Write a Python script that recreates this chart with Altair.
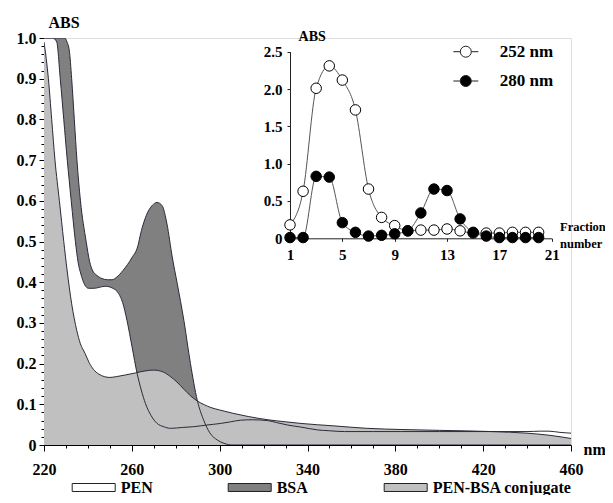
import altair as alt
import pandas as pd

# ---------------- main spectra ----------------
pen_nm = [220, 224, 225.8, 227.4, 229.0, 230.6, 232.4, 234.3, 235.5, 236.8,
          238.0, 240.3, 243.0, 245.6, 248.0, 251.0, 254.0, 255.8, 257.8, 260.1,
          262.4, 264.3, 266.2, 268.8, 271.5, 274.5, 277.6, 283.0, 288.2, 294.0,
          300.5, 305.0, 309.6, 315.0, 321.8, 326.0, 331.0, 337.0, 344.7, 350.0,
          356.8, 370.0, 382.7, 400.0, 424.0, 440.0, 446.0, 450.0, 455.0, 460.0]
pen_abs = [1.0, 1.0, 0.99, 0.9, 0.8, 0.7, 0.6, 0.5, 0.45, 0.42,
           0.40, 0.385, 0.385, 0.388, 0.39, 0.386, 0.372, 0.35, 0.306, 0.241,
           0.176, 0.135, 0.102, 0.072, 0.053, 0.045, 0.041, 0.043, 0.045, 0.049,
           0.053, 0.057, 0.061, 0.062, 0.060, 0.055, 0.049, 0.044, 0.037, 0.035,
           0.033, 0.033, 0.033, 0.033, 0.033, 0.033, 0.034, 0.034, 0.031, 0.029]

bsa_nm = [220, 229.5, 230.5, 231.5, 232.6, 233.8, 235.0, 236.6, 239.2, 240.8,
          242.0, 244.0, 246.4, 249.0, 251.0, 253.0, 256.0, 260.0, 262.8, 264.0,
          266.9, 269.2, 271.5, 273.8, 276.0, 278.4, 280.7, 283.7, 286.7, 289.8,
          292.8, 295.5, 299.0, 302.0, 306.0, 320.0, 460.0]
bsa_abs = [1.0, 1.0, 0.99, 0.97, 0.9, 0.8, 0.7, 0.6, 0.5, 0.45,
           0.43, 0.417, 0.409, 0.406, 0.406, 0.412, 0.429, 0.46, 0.49, 0.519,
           0.568, 0.588, 0.596, 0.588, 0.543, 0.462, 0.396, 0.306, 0.2, 0.11,
           0.06, 0.03, 0.012, 0.004, 0.0, 0.0, 0.0]

conj_nm = [220, 221, 222, 223.5, 225, 227, 229, 230.5, 232.6, 234.9,
           236.5, 238.7, 240.5, 242.5, 245, 247.5, 250, 253, 257, 261.6,
           266, 270, 274, 277.6, 280.5, 283.7, 286.7, 289.8, 293, 296,
           300, 306, 313, 322, 330, 337, 352, 367, 383, 400,
           424, 440, 450, 460]
conj_abs = [0.99, 0.95, 0.9, 0.8, 0.7, 0.6, 0.5, 0.43, 0.347, 0.282,
            0.25, 0.225, 0.203, 0.186, 0.174, 0.168, 0.166, 0.168, 0.172, 0.177,
            0.182, 0.184, 0.18, 0.168, 0.155, 0.137, 0.121, 0.108, 0.099, 0.092,
            0.086, 0.078, 0.07, 0.062, 0.057, 0.053, 0.047, 0.041, 0.038, 0.036,
            0.033, 0.029, 0.024, 0.016]

series_names = ["PEN", "BSA", "PEN-BSA conjugate"]
fill_colors = ["#ffffff", "#808080", "#c0c0c0"]

# ---------------- inset: fractions ----------------
fractions = list(range(1, 21))
abs_252 = [0.18, 0.63, 2.01, 2.31, 2.12, 1.72, 0.66, 0.28, 0.17, 0.10,
           0.11, 0.11, 0.125, 0.10, 0.07, 0.07, 0.07, 0.08, 0.08, 0.08]
abs_280 = [0.01, 0.01, 0.83, 0.82, 0.21, 0.08, 0.03, 0.04, 0.06, 0.10,
           0.34, 0.66, 0.64, 0.26, 0.08, 0.03, 0.01, 0.01, 0.01, 0.01]
inset_series = ["252 nm", "280 nm"]
inset_fills = ["#ffffff", "#000000"]

x_ticks = list(range(220, 461, 10))
y_ticks = [round(i * 0.02, 2) for i in range(51)]
inset_x_ticks = [1, 5, 9, 13, 17, 21]
inset_y_ticks = [0, 0.5, 1.0, 1.5, 2.0, 2.5]

FONT = "Liberation Serif"

main_df = pd.concat([
    pd.DataFrame({"nm": pen_nm, "abs": pen_abs, "series": "PEN"}),
    pd.DataFrame({"nm": bsa_nm, "abs": bsa_abs, "series": "BSA"}),
    pd.DataFrame({"nm": conj_nm, "abs": conj_abs, "series": "PEN-BSA conjugate"}),
], ignore_index=True)

inset_df = pd.concat([
    pd.DataFrame({"fraction": fractions, "abs": abs_252, "series": "252 nm"}),
    pd.DataFrame({"fraction": fractions, "abs": abs_280, "series": "280 nm"}),
], ignore_index=True)

major_y = "abs(datum.value*10 - round(datum.value*10)) < 0.001"
major_x = "(datum.value - 220) % 40 == 0"

x_main = alt.X(
    "nm:Q",
    scale=alt.Scale(domain=[220, 460], nice=False, zero=False),
    axis=alt.Axis(
        values=x_ticks,
        labelExpr=f"{major_x} ? datum.label : ''",
        tickSize={"condition": {"test": major_x, "value": 6}, "value": 3},
        labelFontSize=16, labelFontWeight="bold", labelFont=FONT, labelColor="black",
        labelPadding=10, labelOverlap=False, labelFlush=False,
        domainColor="black", tickColor="black", grid=False,
        title="nm", titleX=539, titleY=4, titleAlign="left", titleBaseline="middle",
        titleFontSize=16, titleFontWeight="bold", titleFont=FONT, titleColor="black",
    ),
)
y_main = alt.Y(
    "abs:Q",
    scale=alt.Scale(domain=[0, 1], nice=False),
    axis=alt.Axis(
        values=y_ticks,
        labelExpr=f"{major_y} ? (datum.value == 0 ? '0' : format(datum.value, '.1f')) : ''",
        tickSize={"condition": {"test": major_y, "value": 5}, "value": 3},
        labelFontSize=16, labelFontWeight="bold", labelFont=FONT, labelColor="black",
        labelPadding=3, labelOverlap=False, labelFlush=False,
        domainColor="black", tickColor="black", grid=False,
        title="ABS", titleAngle=0, titleX=19.5, titleY=-16, titleAlign="center",
        titleBaseline="middle", titleFontSize=16, titleFontWeight="bold",
        titleFont=FONT, titleColor="black",
    ),
)

main_legend = alt.Legend(
    title=None, orient="none", legendX=27.7, legendY=427.5, direction="horizontal",
    symbolType="M-1,-0.186L1,-0.186L1,0.186L-1,0.186Z", symbolSize=1849,
    symbolStrokeColor="#222222", symbolStrokeWidth=1, symbolOpacity=1,
    labelFont=FONT, labelFontSize=16, labelFontWeight="bold", labelColor="black",
    labelOffset=5, columnPadding=73, padding=0, labelLimit=300,
)
fill_main = alt.Fill("series:N", scale=alt.Scale(domain=series_names, range=fill_colors),
                     legend=main_legend)

base_main = alt.Chart(main_df)
areas = [
    base_main.transform_filter(alt.datum.series == name)
    .mark_area(interpolate="monotone", opacity=1, clip=True)
    .encode(x=x_main, y=y_main, fill=fill_main)
    for name in ["BSA", "PEN", "PEN-BSA conjugate"]
]
lines = base_main.mark_line(interpolate="monotone", stroke="#2a2a3a", strokeWidth=1,
                            clip=True).encode(x=x_main, y=y_main, detail="series:N")
main_layer = alt.layer(*areas, lines)

# ---------------- inset ----------------
x_inset = alt.X(
    "fraction:Q",
    scale=alt.Scale(domain=[1, 21], range=[246, 507.7], nice=False, zero=False),
    axis=alt.Axis(
        orient="bottom", offset=-206.7, values=inset_x_ticks, tickSize=3,
        labelFontSize=15, labelFontWeight="bold", labelFont=FONT, labelColor="black",
        labelPadding=6, labelOverlap=False, labelFlush=False,
        domainColor="#222222", tickColor="#222222", grid=False,
        title=["Fraction", "number"], titleX=515.5, titleY=-11.6, titleAlign="left",
        titleBaseline="middle", titleLineHeight=16.6, titleFontSize=12.5,
        titleFontWeight="bold", titleFont=FONT, titleColor="black",
    ),
)
y_inset = alt.Y(
    "abs:Q",
    scale=alt.Scale(domain=[0, 2.5], range=[200.3, 13.7], nice=False),
    axis=alt.Axis(
        orient="left", offset=-246, values=inset_y_ticks, tickSize=3,
        labelExpr="datum.value == 0 ? '0' : format(datum.value, '.1f')",
        labelFontSize=15, labelFontWeight="bold", labelFont=FONT, labelColor="black",
        labelPadding=5, labelOverlap=False, labelFlush=False,
        domainColor="#222222", tickColor="#222222", grid=False,
        title="ABS", titleAngle=0, titleX=21.7, titleY=-1.8, titleAlign="center",
        titleBaseline="middle", titleFontSize=14, titleFontWeight="bold",
        titleFont=FONT, titleColor="black",
    ),
)
inset_legend = alt.Legend(
    title=None, orient="none", legendX=405.3, legendY=5.2, direction="vertical",
    symbolType="M-2.27,0L-1,0A1,1,0,0,1,1,0A1,1,0,0,1,-1,0M1,0L2.27,0",
    symbolSize=121, symbolStrokeColor="#222222", symbolStrokeWidth=1, symbolOpacity=1,
    symbolOffset=8, labelOffset=25.4, rowPadding=11.3, padding=0,
    labelFont=FONT, labelFontSize=17, labelFontWeight="bold", labelColor="black",
)
inset_lines = alt.Chart(inset_df).mark_line(
    interpolate="monotone", color="#555555", strokeWidth=1
).encode(x=x_inset, y=y_inset, detail="series:N")
inset_points = alt.Chart(inset_df).mark_point(
    shape="circle", filled=True, size=110, stroke="black", strokeWidth=1, opacity=1
).encode(
    x=x_inset, y=y_inset,
    fill=alt.Fill("series:N", scale=alt.Scale(domain=inset_series, range=inset_fills),
                  legend=inset_legend),
)
inset_layer = alt.layer(inset_lines, inset_points)

chart = alt.layer(main_layer, inset_layer).resolve_scale(
    x="independent", y="independent", fill="independent"
).properties(
    width=527, height=407, autosize="none",
    padding={"left": 36, "top": 30, "right": 34, "bottom": 50},
    background="white",
).configure_view(stroke=None).configure(font=FONT)

chart.save("out.html", embed_options={"renderer": "svg", "actions": False})
